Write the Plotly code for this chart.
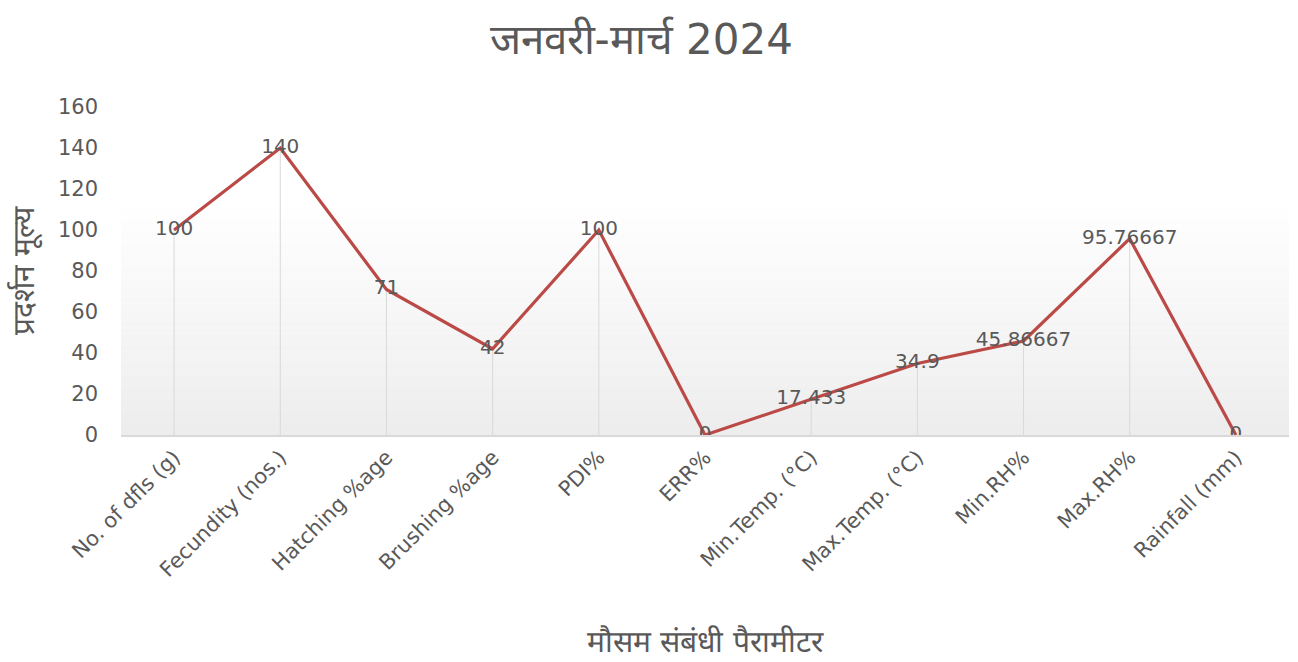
import plotly.graph_objects as go

# Parameters and their values for January–March 2024
categories = [
    "No. of dfls (g)", "Fecundity (nos.)", "Hatching %age", "Brushing %age",
    "PDI%", "ERR%", "Min.Temp. (°C)", "Max.Temp. (°C)", "Min.RH%",
    "Max.RH%", "Rainfall (mm)",
]
values = [100, 140, 71, 42, 100, 0, 17.433, 34.9, 45.86667, 95.76667, 0]
value_labels = ["100", "140", "71", "42", "100", "0", "17.433", "34.9",
                "45.86667", "95.76667", "0"]

y_ticks = [0, 20, 40, 60, 80, 100, 120, 140, 160]

TEXT_GREY = "#595959"
LINE_RED = "#bb4a47"
DROP_GREY = "#d9d9d9"
FONT = "DejaVu Sans, Open Sans, sans-serif"

fig = go.Figure()

# Vertical drop lines from each point to the category axis
drop_x, drop_y = [], []
for c, v in zip(categories, values):
    drop_x += [c, c, None]
    drop_y += [0, v, None]
fig.add_trace(go.Scatter(
    x=drop_x, y=drop_y, mode="lines",
    line=dict(color=DROP_GREY, width=1),
    hoverinfo="skip", showlegend=False,
))

# Main series with centred data labels
fig.add_trace(go.Scatter(
    x=categories, y=values, mode="lines+text",
    text=value_labels, textposition="middle center",
    textfont=dict(family=FONT, size=20, color=TEXT_GREY),
    line=dict(color=LINE_RED, width=3.2),
    showlegend=False,
))

# Soft vertical gradient behind the lower part of the plot area
shapes = []
n_steps = 40
top, bottom = 0.73, 0.0
for i in range(n_steps):
    f = i / (n_steps - 1)
    y1 = top - (top - bottom) * i / n_steps
    y0 = top - (top - bottom) * (i + 1) / n_steps
    g = round(255 - (255 - 237) * f)
    shapes.append(dict(
        type="rect", xref="paper", yref="paper",
        x0=0, x1=1, y0=y0, y1=y1,
        fillcolor=f"rgb({g},{g},{g})", line=dict(width=0), layer="below",
    ))

fig.update_layout(
    width=1298, height=662,
    margin=dict(l=121, r=9, t=107, b=227, autoexpand=False),
    paper_bgcolor="white", plot_bgcolor="white",
    shapes=shapes,
    title=dict(
        text="जनवरी-मार्च 2024", x=0.494, xanchor="center",
        y=0.94, yanchor="middle",
        font=dict(family=FONT, size=42, color=TEXT_GREY),
    ),
    font=dict(family=FONT, color=TEXT_GREY),
    xaxis=dict(
        type="category", range=[-0.5, 10.5],
        tickangle=-45, tickfont=dict(size=21, color=TEXT_GREY),
        showgrid=False, showline=True, linecolor=DROP_GREY, linewidth=1.5,
        ticks="", zeroline=False, automargin=False,
        title=dict(text="मौसम संबंधी पैरामीटर",
                   font=dict(size=30, color=TEXT_GREY), standoff=50),
    ),
    yaxis=dict(
        range=[0, 160], tickvals=y_ticks,
        tickfont=dict(size=21, color=TEXT_GREY),
        showgrid=False, zeroline=False, showline=False, ticks="",
        ticklabelstandoff=22, automargin=False,
        title=dict(text="प्रदर्शन मूल्य",
                   font=dict(size=30, color=TEXT_GREY), standoff=14),
    ),
)

fig.write_html("out.html")
